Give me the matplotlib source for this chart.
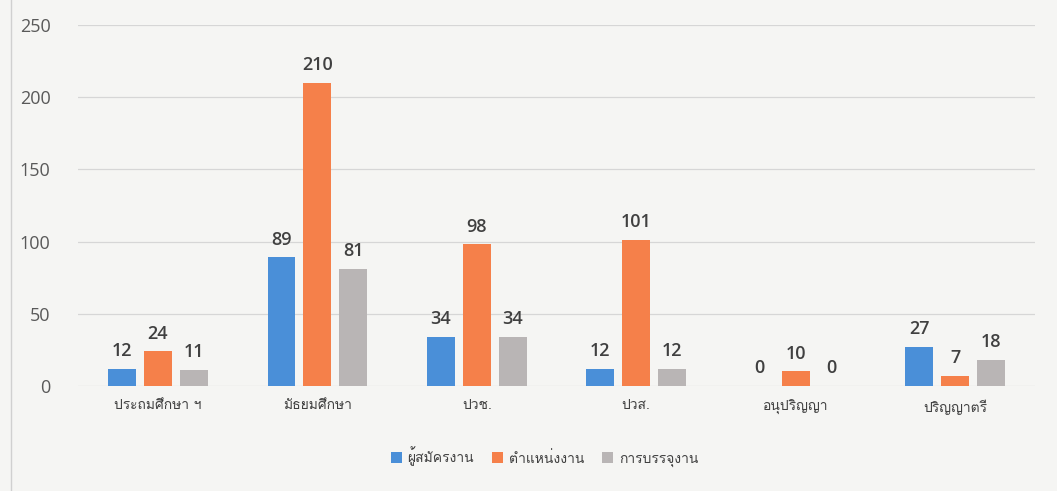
import matplotlib
matplotlib.use("Agg")
import matplotlib.pyplot as plt
from matplotlib import font_manager
from matplotlib.lines import Line2D
import numpy as np

categories = ["ประถมศึกษา ฯ", "มัธยมศึกษา", "ปวช.", "ปวส.", "อนุปริญญา", "ปริญญาตรี"]
series_names = ["ผู้สมัครงาน", "ตำแหน่งงาน", "การบรรจุงาน"]
applicants = [12, 89, 34, 12, 0, 27]
positions = [24, 210, 98, 101, 10, 7]
placements = [11, 81, 34, 12, 0, 18]
colors = ["#4a8fd8", "#f5804a", "#b9b5b5"]

# pick a font with Thai glyphs if there is one
thai_font = None
for f in font_manager.fontManager.ttflist:
    name = f.name
    if any(k in name for k in ("Thai", "Loma", "Garuda", "Sarabun", "Tlwg", "Kinnari", "Norasi", "Waree", "Umpush", "Sawasdee")):
        thai_font = name
        break
families = ([thai_font] if thai_font else []) + ["DejaVu Sans"]
plt.rcParams["font.family"] = families

fig = plt.figure(figsize=(10.57, 4.91), dpi=100)
fig.patch.set_facecolor("#f5f5f3")
ax = fig.add_axes([0.074, 0.214, 0.905, 0.735])
ax.set_facecolor("#f5f5f3")

x = np.arange(len(categories))
width = 0.175
offsets = [-0.225, 0, 0.225]
for vals, off, col, name in zip([applicants, positions, placements], offsets, colors, series_names):
    bars = ax.bar(x + off, vals, width, color=col, label=name, zorder=3)
    for b, v in zip(bars, vals):
        ax.text(b.get_x() + b.get_width() / 2, v + 6, str(v), ha="center", va="bottom",
                fontsize=13, fontweight="semibold", color="#404040", family="Open Sans")

ax.set_ylim(0, 250)
ax.set_xlim(-0.5, len(categories) - 0.5)
ax.set_yticks(range(0, 251, 50))
ax.yaxis.grid(True, color="#d6d6d6", linewidth=0.9, zorder=0)
ax.set_xticks(x)
ax.set_xticklabels(categories, fontsize=10, color="#404040")
ax.tick_params(axis="both", length=0)
ax.tick_params(axis="y", labelsize=13, labelcolor="#595959", pad=20)
ax.tick_params(axis="x", pad=10)
for lbl in ax.get_yticklabels():
    lbl.set_family("Open Sans")
for s in ax.spines.values():
    s.set_visible(False)

leg = fig.legend(loc="center", bbox_to_anchor=(0.515, 0.07), ncol=3, frameon=False,
                 fontsize=10, handlelength=0.8, handleheight=0.8, columnspacing=1.3,
                 handletextpad=0.4, labelcolor="#404040")

fig.add_artist(Line2D([0.01, 0.01], [0.0, 1.0], color="#d0d0d0", linewidth=1))

fig.savefig("out.png", dpi=100, facecolor=fig.get_facecolor())
